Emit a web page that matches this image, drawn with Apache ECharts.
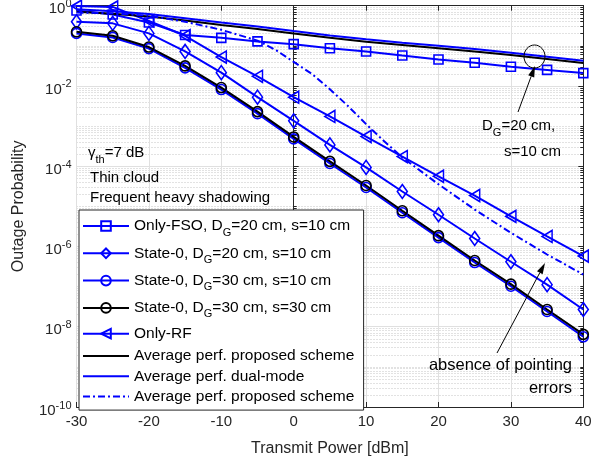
<!DOCTYPE html>
<html><head><meta charset="utf-8">
<script src="https://cdn.jsdelivr.net/npm/echarts@6/dist/echarts.min.js"></script>
<style>html,body{margin:0;padding:0;background:#fff}#c{width:606px;height:461px}</style>
</head><body><div id="c"></div>
<script>
// ---- data ----
const power = [-30, -25, -20, -15, -10, -5, 0, 5, 10, 15, 20, 25, 30, 35, 40];
const onlyFSO = [0.759, 0.603, 0.380, 0.186, 0.158, 0.129, 0.110, 0.0871, 0.0724, 0.0575, 0.0457, 0.0380, 0.0302, 0.0251, 0.0209];
const state0_20_10 = [0.398, 0.363, 0.204, 0.0724, 0.0214, 5.25e-3, 1.35e-3, 3.39e-4, 9.33e-5, 2.34e-5, 6.17e-6, 1.58e-6, 4.17e-7, 1.12e-7, 2.69e-8];
const state0_30_10 = [0.204, 0.162, 0.0851, 0.0282, 8.13e-3, 2.04e-3, 4.79e-4, 1.17e-4, 2.95e-5, 6.92e-6, 1.66e-6, 3.98e-7, 1.02e-7, 2.40e-8, 5.62e-9];
const state0_30_30 = [0.224, 0.178, 0.0933, 0.0316, 9.12e-3, 2.29e-3, 5.37e-4, 1.32e-4, 3.31e-5, 7.76e-6, 1.86e-6, 4.47e-7, 1.15e-7, 2.69e-8, 6.46e-9];
const onlyRF = [0.977, 0.933, 0.417, 0.178, 0.0525, 0.0174, 5.25e-3, 1.74e-3, 5.50e-4, 1.74e-4, 5.62e-5, 1.86e-5, 5.62e-6, 1.78e-6, 5.75e-7];
const avgProposed = [0.708, 0.631, 0.537, 0.427, 0.331, 0.263, 0.204, 0.158, 0.126, 0.105, 0.0871, 0.0724, 0.0589, 0.0468, 0.0372];
const avgDualMode = [0.813, 0.724, 0.617, 0.490, 0.380, 0.302, 0.234, 0.182, 0.145, 0.120, 0.100, 0.0832, 0.0676, 0.0537, 0.0427];
const powerNoPE = [-30, -25, -20, -15, -10, -5, -2.5, 0, 2.5, 5, 7.5, 10, 12.5, 15, 20, 25, 30, 35, 40];
const avgProposedNoPE = [0.676, 0.646, 0.562, 0.398, 0.251, 0.135, 0.0794, 0.0398, 0.0200, 8.32e-3, 3.16e-3, 1.12e-3, 4.17e-4, 1.66e-4, 3.55e-5, 8.32e-6, 2.19e-6, 6.31e-7, 2.00e-7];
const xTickValues = [-30, -20, -10, 0, 10, 20, 30, 40];
const yLabelValues = [1e-10, 1e-8, 1e-6, 1e-4, 1e-2, 1];
const seriesNames = [
  'Only-FSO, D_G=20 cm, s=10 cm',
  'State-0, D_G=20 cm, s=10 cm',
  'State-0, D_G=30 cm, s=10 cm',
  'State-0, D_G=30 cm, s=30 cm',
  'Only-RF',
  'Average perf. proposed scheme',
  'Average perf. dual-mode',
  'Average perf. proposed scheme '
];

// minor tick positions of the log axis (2..9 x 10^k and odd decades)
const yMinorValues = [];
for (let k = -10; k < 0; k++) {
  if (k % 2 !== 0) yMinorValues.push(Math.pow(10, k));
  for (let m = 2; m <= 9; m++) yMinorValues.push(m * Math.pow(10, k));
}

const BLUE = '#0000ff', BLACK = '#000000', AX = '#262626';
const FONT = 'Liberation Sans';
const pairs = (xs, ys) => xs.map((x, i) => [x, ys[i]]);
const triLeft = 'path://M0,6L10,0L10,12Z';

function mk(name, xs, ys, color, symbol, size, dash) {
  const hasSym = !!symbol;
  return {
    name, type: 'line', data: pairs(xs, ys), xAxisIndex: 0, yAxisIndex: 0,
    symbol: hasSym ? symbol : 'circle', symbolSize: hasSym ? size : 0, showSymbol: hasSym,
    lineStyle: { color, width: 2, type: dash || 'solid' },
    itemStyle: hasSym ? { color: 'transparent', borderColor: color, borderWidth: 1.6 }
                      : { color: 'transparent', borderColor: 'transparent', borderWidth: 0, opacity: 0 },
    emphasis: { disabled: true }, animation: false, clip: true
  };
}

const series = [
  mk(seriesNames[0], power, onlyFSO, BLUE, 'rect', 9),
  mk(seriesNames[1], power, state0_20_10, BLUE, 'diamond', [10, 14]),
  mk(seriesNames[2], power, state0_30_10, BLUE, 'circle', 10),
  mk(seriesNames[3], power, state0_30_30, BLACK, 'circle', 10),
  mk(seriesNames[4], power, onlyRF, BLUE, triLeft, [10, 12]),
  mk(seriesNames[5], power, avgProposed, BLACK),
  mk(seriesNames[6], power, avgDualMode, BLUE),
  mk(seriesNames[7], powerNoPE, avgProposedNoPE, BLUE, null, null, [7, 3, 2, 3])
];

const supRich = {
  b: { fontSize: 15, lineHeight: 18, verticalAlign: 'bottom', fontFamily: FONT, color: AX },
  s: { fontSize: 11, lineHeight: 13, verticalAlign: 'top', padding: [0, 0, 8.5, 0], fontFamily: FONT, color: AX }
};
const logLabel = v => '{b|10}{s|' + Math.round(Math.log10(v)) + '}';

function yAx(pos, withLabels, tickVals, tickLen, split) {
  return {
    type: 'log', logBase: 10, min: 1e-10, max: 1, position: pos,
    axisLine: { show: true, lineStyle: { color: AX, width: 1 } },
    axisTick: { show: true, inside: true, length: tickLen, customValues: tickVals, lineStyle: { color: AX } },
    axisLabel: withLabels ? { show: true, customValues: yLabelValues, formatter: logLabel, rich: supRich, margin: 5, padding: [4, 0, 0, 0] } : { show: false },
    splitLine: split ? { show: true, customValues: tickVals, lineStyle: split } : { show: false },
    minorTick: { show: false }, minorSplitLine: { show: false }
  };
}

function subFmt(n) {
  if (n.indexOf('D_G') >= 0) {
    const parts = n.split('D_G');
    return '{t|' + parts[0] + 'D}{sub|G}{t|' + parts[1] + '}';
  }
  if (n === 'Only-RF') return '{r|' + n + '}';
  return n;
}

const option = {
  backgroundColor: '#ffffff',
  animation: false,
  textStyle: { fontFamily: FONT },
  grid: { left: 76.5, right: 22.7, top: 5.7, bottom: 54, containLabel: false, outerBoundsMode: 'none' },
  xAxis: [
    {
      type: 'value', min: -30, max: 40, interval: 10, position: 'bottom',
      name: 'Transmit Power [dBm]', nameLocation: 'middle', nameGap: 34,
      nameTextStyle: { fontSize: 16, color: AX, fontFamily: FONT },
      axisLine: { onZero: false, lineStyle: { color: AX } },
      axisTick: { inside: true, length: 5, lineStyle: { color: AX } },
      axisLabel: { fontSize: 15, color: AX, margin: 7, fontFamily: FONT, formatter: v => String(v) },
      splitLine: { show: true, lineStyle: { color: '#e0e0e0', width: 1 } }
    },
    {
      type: 'value', min: -30, max: 40, interval: 10, position: 'top',
      axisLine: { onZero: false, lineStyle: { color: AX } },
      axisTick: { inside: true, length: 5, lineStyle: { color: AX } },
      axisLabel: { show: false }, splitLine: { show: false }
    }
  ],
  yAxis: [
    Object.assign(yAx('left', true, yLabelValues, 5, { color: '#e0e0e0', width: 1 }), {
      name: 'Outage Probability', nameLocation: 'middle', nameGap: 50,
      nameTextStyle: { fontSize: 16, color: AX, fontFamily: FONT }
    }),
    yAx('left', false, yMinorValues, 3, { color: '#c4c4c4', width: 1, type: [1, 2] }),
    yAx('right', false, yLabelValues, 5, null),
    yAx('right', false, yMinorValues, 3, null)
  ],
  legend: {
    orient: 'vertical', left: 79, top: 210,
    data: seriesNames,
    backgroundColor: '#ffffff', borderColor: AX, borderWidth: 1, borderRadius: 0,
    padding: [4, 5, 5, 3], itemGap: 3.3, itemWidth: 46, itemHeight: 12,
    textStyle: { fontSize: 15.5, color: '#000', fontFamily: FONT, lineHeight: 17,
      rich: {
        t: { fontSize: 15.5, lineHeight: 24, verticalAlign: 'middle', fontFamily: FONT, color: '#000' },
        r: { fontSize: 15.5, lineHeight: 21, verticalAlign: 'middle', fontFamily: FONT, color: '#000' },
        sub: { fontSize: 11, lineHeight: 13, verticalAlign: 'bottom', fontFamily: FONT, color: '#000' }
      } },
    formatter: subFmt,
    selectedMode: false
  },
  series: series
};

function arrow(x1, y1, x2, y2) {
  const a = Math.atan2(y2 - y1, x2 - x1), L = 11, W = 3.2;
  const bx = x2 - L * Math.cos(a), by = y2 - L * Math.sin(a);
  return [
    { type: 'line', z: 100, shape: { x1, y1, x2: bx, y2: by }, style: { stroke: '#000', lineWidth: 1 } },
    { type: 'polygon', z: 100, shape: { points: [[x2, y2], [bx + W * Math.sin(a), by - W * Math.cos(a)], [bx - W * Math.sin(a), by + W * Math.cos(a)]] }, style: { fill: '#000' } }
  ];
}
const subRich = {
  t: { fontSize: 15, lineHeight: 24, verticalAlign: 'middle', fontFamily: FONT, fill: '#000' },
  sub: { fontSize: 11, verticalAlign: 'bottom', lineHeight: 13, fontFamily: FONT, fill: '#000' }
};
function txt(x, y, text, size, align) {
  return { type: 'text', z: 100, x, y, style: { text, fontSize: size || 15, fontFamily: FONT, fill: '#000', align: align || 'left', verticalAlign: 'middle', rich: subRich } };
}
option.graphic = [
  txt(88, 153, '{t|γ}{sub|th}{t|=7 dB}'),
  txt(90, 178, 'Thin cloud'),
  txt(90, 198, 'Frequent heavy shadowing'),
  txt(482, 126, '{t|D}{sub|G}{t|=20 cm,}'),
  txt(504, 152, 's=10 cm'),
  txt(572, 365, 'absence of pointing', 16.5, 'right'),
  txt(572, 388, 'errors', 16.5, 'right'),
  { type: 'ellipse', z: 100, shape: { cx: 534.5, cy: 56.5, rx: 10.5, ry: 11.5 }, style: { fill: 'none', stroke: '#000', lineWidth: 1 } },
  ...arrow(518, 112, 535, 66),
  ...arrow(497, 353, 545, 263)
];

const chart = echarts.init(document.getElementById('c'), null, { renderer: 'canvas' });
chart.setOption(option);
</script></body></html>
